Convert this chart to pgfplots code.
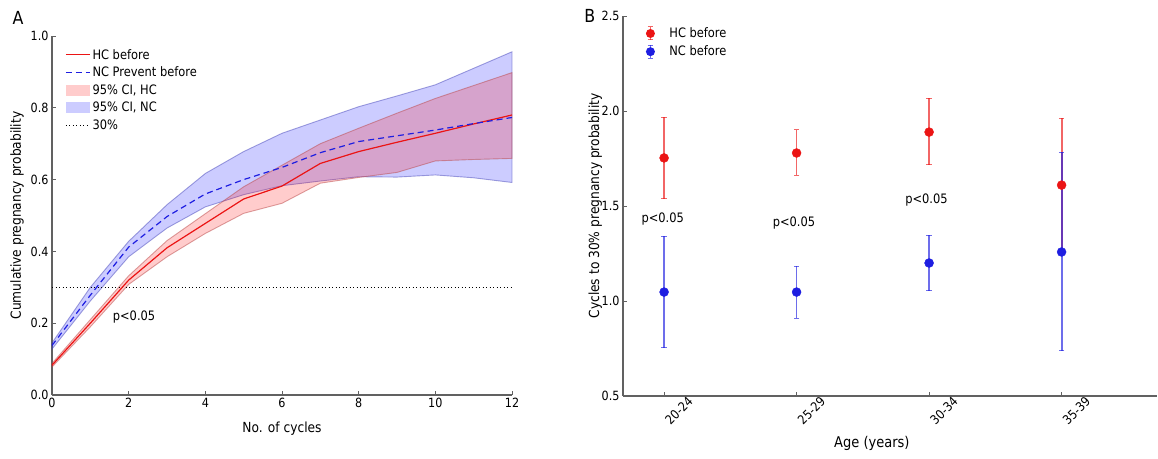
\documentclass[border=0pt]{standalone}
\usepackage{fontspec}
\setmainfont{DejaVu Sans}[FakeStretch=0.88]
\usepackage{pgfplots}
\pgfplotsset{compat=1.18}

\definecolor{spine}{gray}{0.38}
\definecolor{hcred}{RGB}{235,20,20}
\definecolor{ncblue}{RGB}{30,30,225}

\pgfplotsset{
  panel/.style={
    scale only axis,
    clip=false,
    axis x line*=bottom,
    axis y line*=left,
    axis line style={spine, line width=1.3pt},
    tick align=inside,
    major tick length=4pt,
    every tick/.style={spine, line width=0.8pt},
    tick label style={font=\fontsize{12.7}{14}\selectfont},
    label style={font=\fontsize{13.9}{16}\selectfont},
    /pgf/number format/assume math mode=true,
    yticklabel style={/pgf/number format/.cd, fixed, fixed zerofill, precision=1},
  },
  myarea/.style={legend image code/.code={\fill[##1, draw=none] (0pt,-5.5pt) rectangle (24pt,5.5pt);}},
  ebleg/.style={legend image code/.code={
      \path[draw=none] (-5pt,0pt) -- (17pt,0pt);
      \draw[#1, line width=1.8pt, opacity=0.65] (0pt,-6.5pt) -- (0pt,6.5pt);
      \draw[#1, line width=1pt, opacity=0.65] (-2.8pt,-6.5pt) -- (2.8pt,-6.5pt) (-2.8pt,6.5pt) -- (2.8pt,6.5pt);
      \fill[#1, draw=none] (0pt,0pt) circle (4.5pt);}},
}

\begin{document}
\begin{tikzpicture}
\path[use as bounding box] (0pt,0pt) rectangle (1158pt,458pt);

% ---------------- panel A
\begin{axis}[panel,
  at={(52pt,63pt)}, anchor=south west,
  width=460pt, height=359pt,
  xmin=0, xmax=12, ymin=0, ymax=1,
  xtick={0,2,4,6,8,10,12},
  ytick={0,0.2,0.4,0.6,0.8,1.0},
  xlabel={No. of cycles},
  ylabel={Cumulative pregnancy probability},
  xlabel style={at={(rel axis cs:0.5,-0.095)}, anchor=center},
  ylabel style={at={(rel axis cs:-0.076,0.5)}, anchor=center},
  legend image code/.code={\draw[#1] (0pt,0pt) -- (24pt,0pt);},
  legend style={draw=none, fill=none, at={(0.022,0.975)}, anchor=north west,
    font=\fontsize{13}{15}\selectfont, row sep=2.3pt},
  legend cell align=left,
]
% 95% CI, NC
\addplot[forget plot, fill=blue, fill opacity=0.2, draw=blue!45!gray, draw opacity=0.5, line width=0.9pt]
  coordinates {(0,0.145) (1,0.300) (2,0.428) (3,0.530) (4,0.617) (5,0.678) (6,0.729)
    (7,0.766) (8,0.803) (9,0.833) (10,0.864) (11,0.910) (12,0.956)
    (12,0.592) (11,0.605) (10,0.613) (9,0.607) (8,0.608) (7,0.596) (6,0.583)
    (5,0.558) (4,0.524) (3,0.465) (2,0.385) (1,0.262) (0,0.128)} -- cycle;
% 95% CI, HC
\addplot[forget plot, fill=red, fill opacity=0.2, draw=red!45!gray, draw opacity=0.5, line width=0.9pt]
  coordinates {(0,0.088) (1,0.210) (2,0.332) (3,0.430) (4,0.505) (5,0.580) (6,0.640)
    (7,0.700) (8,0.743) (9,0.785) (10,0.826) (11,0.862) (12,0.898)
    (12,0.659) (11,0.656) (10,0.652) (9,0.620) (8,0.606) (7,0.590) (6,0.534)
    (5,0.506) (4,0.450) (3,0.385) (2,0.308) (1,0.190) (0,0.078)} -- cycle;
% 30% line
\addplot[forget plot, black, line width=0.8pt, dash pattern=on 1pt off 2.5pt]
  coordinates {(0,0.3) (12,0.3)};
% HC before
\addplot[forget plot, hcred, line width=1.2pt]
  coordinates {(0,0.083) (1,0.200) (2,0.320) (3,0.410) (4,0.478) (5,0.546) (6,0.582)
    (7,0.645) (8,0.678) (9,0.704) (10,0.729) (11,0.755) (12,0.780)};
% NC Prevent before
\addplot[forget plot, ncblue, line width=1.2pt, dash pattern=on 6pt off 4pt]
  coordinates {(0,0.138) (1,0.278) (2,0.412) (3,0.497) (4,0.560) (5,0.600) (6,0.634)
    (7,0.675) (8,0.706) (9,0.722) (10,0.738) (11,0.756) (12,0.773)};

\addlegendimage{hcred, line width=1.2pt}
\addlegendentry{HC before}
\addlegendimage{ncblue, line width=1.2pt, dash pattern=on 6pt off 4pt}
\addlegendentry{NC Prevent before}
\addlegendimage{myarea, fill=red, fill opacity=0.2}
\addlegendentry{95\% CI, HC}
\addlegendimage{myarea, fill=blue, fill opacity=0.2}
\addlegendentry{95\% CI, NC}
\addlegendimage{black, line width=0.8pt, dash pattern=on 1pt off 2.5pt}
\addlegendentry{30\%}

\node[font=\fontsize{13}{15}\selectfont] at (axis cs:2.14,0.217) {p<0.05};
\node[font=\fontsize{18}{20}\selectfont] at (rel axis cs:-0.074,1.05) {A};
\end{axis}

% ---------------- panel B
\begin{axis}[panel,
  at={(623pt,62pt)}, anchor=south west,
  width=534pt, height=380pt,
  xmin=-0.31, xmax=3.72, ymin=0.5, ymax=2.5,
  xtick={0,1,2,3},
  xticklabels={20-24,25-29,30-34,35-39},
  ytick={0.5,1.0,1.5,2.0,2.5},
  x tick label style={rotate=45, anchor=center, yshift=-21pt},
  xlabel={Age (years)},
  ylabel={Cycles to 30\% pregnancy probability},
  xlabel style={at={(rel axis cs:0.466,-0.126)}, anchor=center, font=\fontsize{14.8}{17}\selectfont},
  ylabel style={at={(rel axis cs:-0.052,0.5)}, anchor=center},
  legend style={draw=none, fill=none, at={(0.036,0.98)}, anchor=north west,
    font=\fontsize{13}{15}\selectfont, row sep=2.8pt},
  legend cell align=left,
]
\addplot[only marks, mark=*, mark size=4.5pt, hcred, mark options={fill=hcred, draw=hcred},
  ebleg=hcred,
  error bars/.cd, y dir=both, y explicit, error mark=|,
  error bar style={hcred, line width=1.8pt, opacity=0.65},
  error mark options={hcred, opacity=0.65, mark size=2.8pt, line width=1pt}]
  coordinates {
    (0,1.753) += (0,0.215) -= (0,0.216)
    (1,1.779) += (0,0.121) -= (0,0.116)
    (2,1.889) += (0,0.179) -= (0,0.173)
    (3,1.610) += (0,0.353) -= (0,0.350)
  };
\addlegendentry{HC before}
\addplot[only marks, mark=*, mark size=4.5pt, ncblue, mark options={fill=ncblue, draw=ncblue},
  ebleg=ncblue,
  error bars/.cd, y dir=both, y explicit, error mark=|,
  error bar style={ncblue, line width=1.8pt, opacity=0.65},
  error mark options={ncblue, opacity=0.65, mark size=2.8pt, line width=1pt}]
  coordinates {
    (0,1.047) += (0,0.295) -= (0,0.294)
    (1,1.047) += (0,0.137) -= (0,0.137)
    (2,1.200) += (0,0.147) -= (0,0.147)
    (3,1.258) += (0,0.526) -= (0,0.521)
  };
\addlegendentry{NC before}

\node[font=\fontsize{13}{15}\selectfont] at (axis cs:-0.01,1.43) {p<0.05};
\node[font=\fontsize{13}{15}\selectfont] at (axis cs:0.98,1.41) {p<0.05};
\node[font=\fontsize{13}{15}\selectfont] at (axis cs:1.98,1.53) {p<0.05};
\node[font=\fontsize{18}{20}\selectfont] at (rel axis cs:-0.062,0.999) {B};
\end{axis}
\end{tikzpicture}
\end{document}
